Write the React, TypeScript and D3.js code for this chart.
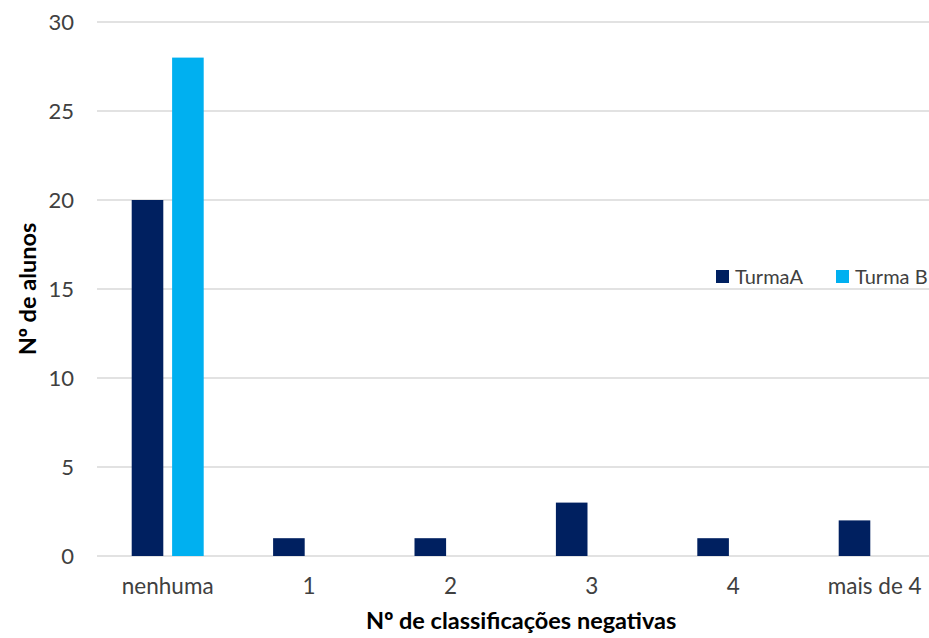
import React from "react";
import * as d3 from "d3";

const categories = ["nenhuma", "1", "2", "3", "4", "mais de 4"];
const seriesNames = ["TurmaA", "Turma B"];
const turmaA = [20, 1, 1, 3, 1, 2];
const turmaB = [28, 0, 0, 0, 0, 0];
const yTicks = [0, 5, 10, 15, 20, 25, 30];
const colors = ["#002060", "#00B0F0"];

const W = 929;
const H = 638;
const FONT = "Lato, 'Open Sans', sans-serif";

export default function App() {
  const left = 97;
  const step = 141.4;
  const x0 = d3
    .scaleBand<string>()
    .domain(categories)
    .range([left, left + step * categories.length])
    .paddingInner(0)
    .paddingOuter(0);
  const x1 = d3.scaleBand<string>().domain(seriesNames).range([-36, 36]).paddingInner(0.218);
  const y = d3.scaleLinear().domain([0, 30]).range([556, 22]);
  const values = [turmaA, turmaB];

  return (
    <svg width={W} height={H} style={{ position: "absolute", left: 0, top: 0, background: "#fff" }} fontFamily={FONT}>
      {yTicks.map((t) => (
        <g key={t}>
          <line x1={left} x2={W} y1={y(t)} y2={y(t)} stroke="#D9D9D9" strokeWidth={1.5} />
          <text x={74} y={y(t)} dy="0.36em" textAnchor="end" fontSize={22} fill="#404040">
            {t}
          </text>
        </g>
      ))}
      {categories.map((c, i) => {
        const cx = (x0(c) as number) + x0.bandwidth() / 2;
        return (
          <g key={c}>
            {seriesNames.map((s, j) => {
              const v = values[j][i];
              if (v <= 0) return null;
              return (
                <rect
                  key={s}
                  x={cx + (x1(s) as number)}
                  y={y(v)}
                  width={x1.bandwidth()}
                  height={y(0) - y(v)}
                  fill={colors[j]}
                />
              );
            })}
            <text x={cx} y={594} textAnchor="middle" fontSize={22.5} fill="#404040">
              {c}
            </text>
          </g>
        );
      })}
      <text
        x={(left + left + step * categories.length) / 2}
        y={629}
        textAnchor="middle"
        fontSize={23.5}
        fontWeight="bold"
        fill="#000"
      >
        N<tspan fontFamily="'Open Sans'">º</tspan> de classificações negativas
      </text>
      <text
        transform={`translate(36, ${(y(0) + y(30)) / 2}) rotate(-90)`}
        textAnchor="middle"
        fontSize={23.5}
        fontWeight="bold"
        fill="#000"
      >
        N<tspan fontFamily="'Open Sans'">º</tspan> de alunos
      </text>
      {seriesNames.map((s, j) => {
        const lx = [716, 836][j];
        return (
          <g key={s}>
            <rect x={lx} y={270} width={13} height={13} fill={colors[j]} />
            <text x={lx + 19} y={276.5} dy="0.36em" fontSize={20} fill="#404040">
              {s}
            </text>
          </g>
        );
      })}
    </svg>
  );
}
